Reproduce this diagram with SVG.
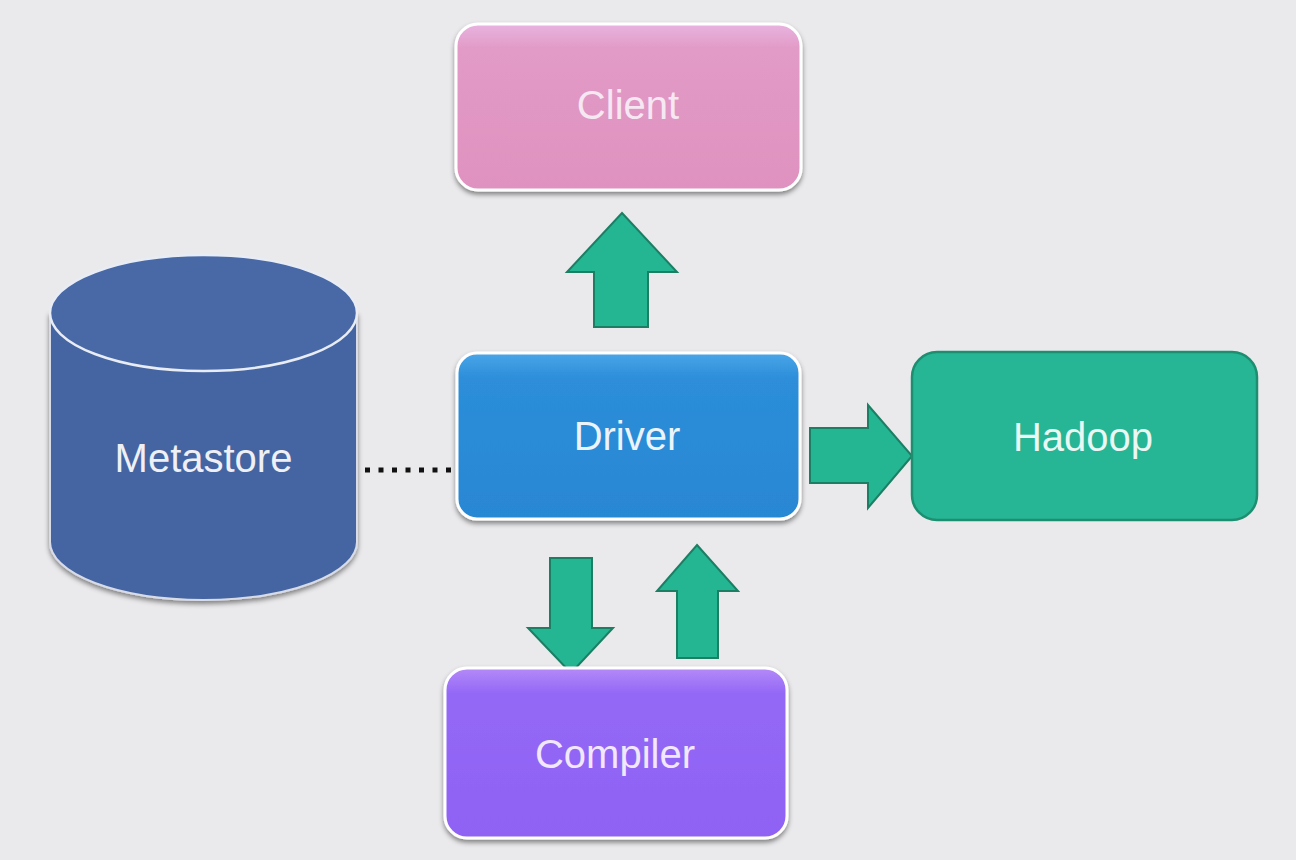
<svg xmlns="http://www.w3.org/2000/svg" width="1296" height="860" viewBox="0 0 1296 860">
<defs>
  <filter id="shadow" x="-10%" y="-10%" width="120%" height="130%">
    <feDropShadow dx="0" dy="3" stdDeviation="2.5" flood-color="#000" flood-opacity="0.45"/>
  </filter>
  <linearGradient id="gClient" x1="0" y1="0" x2="0" y2="1">
    <stop offset="0" stop-color="#e8b4e0"/>
    <stop offset="0.15" stop-color="#e29ac6"/>
    <stop offset="1" stop-color="#df92bf"/>
  </linearGradient>
  <linearGradient id="gDriver" x1="0" y1="0" x2="0" y2="1">
    <stop offset="0" stop-color="#4aa6e8"/>
    <stop offset="0.15" stop-color="#2d8ed9"/>
    <stop offset="1" stop-color="#2887d3"/>
  </linearGradient>
  <linearGradient id="gCompiler" x1="0" y1="0" x2="0" y2="1">
    <stop offset="0" stop-color="#b48af8"/>
    <stop offset="0.15" stop-color="#9468f6"/>
    <stop offset="1" stop-color="#8f62f4"/>
  </linearGradient>
  <style>
    .label { font-family: "Liberation Sans", Arial, sans-serif; font-size: 40px; text-anchor: middle; dominant-baseline: central; }
    .box { stroke: #ffffff; stroke-width: 3; }
    .arrow { fill: #24b592; stroke: #1c7f63; stroke-width: 2; stroke-linejoin: miter; }
  </style>
</defs>
<rect x="0" y="0" width="1296" height="860" fill="#eaeaec"/>

<g id="connectors">
  <line x1="365" y1="470" x2="457" y2="470" stroke="#111" stroke-width="5" stroke-dasharray="5 8.5"/>
  <!-- Driver -> Client -->
  <polygon class="arrow" points="622,213 677,272 648,272 648,327 594,327 594,272 567,272"/>
  <!-- Driver -> Hadoop -->
  <polygon class="arrow" points="912,456 868,508 868,483 810,483 810,428 868,428 868,405"/>
  <!-- Driver -> Compiler -->
  <polygon class="arrow" points="571,673 613,628 592,628 592,558 550,558 550,628 528,628"/>
  <!-- Compiler -> Driver -->
  <polygon class="arrow" points="697,545 738,591 718,591 718,658 677,658 677,591 657,591"/>
</g>

<g id="metastore">
  <path d="M50,313 L50,542 A153.5,58 0 0 0 357,542 L357,313 Z" fill="#4565a2" stroke="#d8dce8" stroke-width="2" filter="url(#shadow)"/>
  <ellipse cx="203.5" cy="313" rx="153.5" ry="58" fill="#4868a6" stroke="#e8ecf4" stroke-width="2.5"/>
  <text class="label" x="203.5" y="458" fill="#eef0f6">Metastore</text>
</g>

<g id="client">
  <rect class="box" x="456" y="24" width="345" height="166" rx="22" fill="url(#gClient)" filter="url(#shadow)"/>
  <text class="label" x="628" y="105" fill="#f6e8f3">Client</text>
</g>

<g id="driver">
  <rect class="box" x="457" y="353" width="343" height="166" rx="20" fill="url(#gDriver)" filter="url(#shadow)"/>
  <text class="label" x="627" y="436" fill="#ecf4fb">Driver</text>
</g>

<g id="hadoop">
  <rect x="912" y="352" width="345" height="168" rx="25" fill="#26b595" stroke="#1d8f70" stroke-width="2.5"/>
  <text class="label" x="1083" y="437" fill="#eaf7f3">Hadoop</text>
</g>

<g id="compiler">
  <rect class="box" x="445" y="668" width="342" height="170" rx="22" fill="url(#gCompiler)" filter="url(#shadow)"/>
  <text class="label" x="615" y="754" fill="#f2e8fd">Compiler</text>
</g>
</svg>
